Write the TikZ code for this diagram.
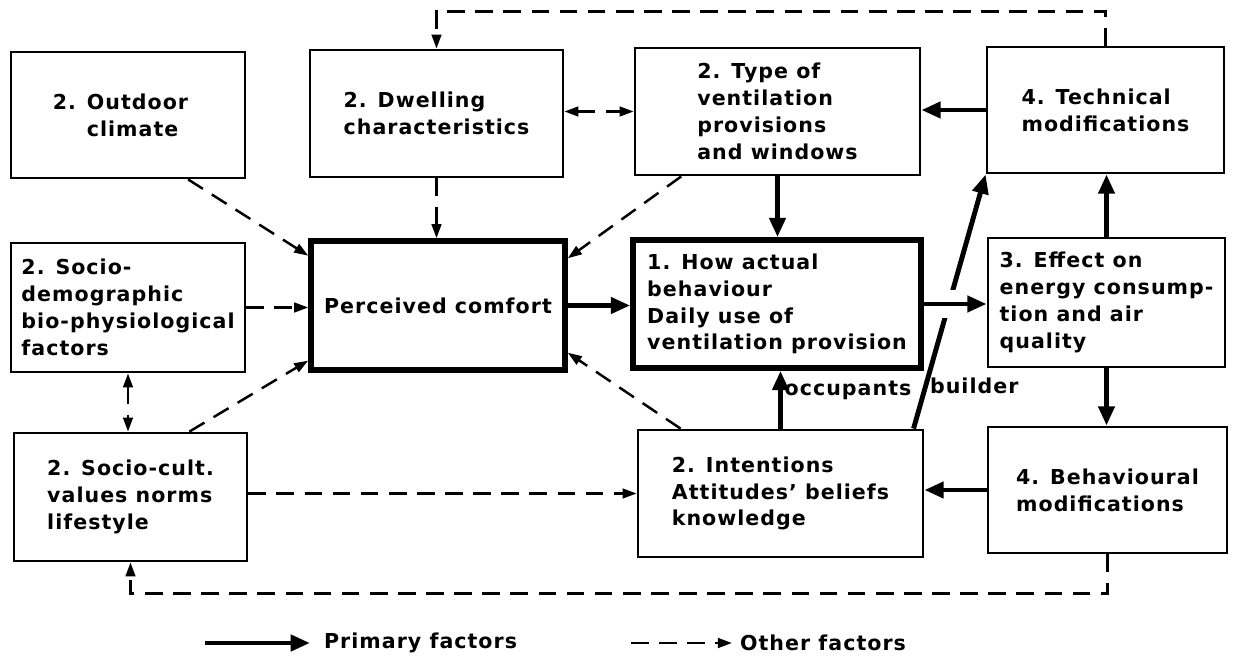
\documentclass[tikz,border=0pt]{standalone}
\usepackage{fontspec}
\setmainfont{DejaVu Sans}[LetterSpace=5]
\usepackage{tikz}
\usetikzlibrary{arrows.meta}
\tikzset{%
    box/.style={draw, line width=1.6pt, align=left, inner sep=0pt,
        font=\fontsize{11.7}{15.3}\selectfont\bfseries},
    mainbox/.style={box, line width=3.2pt},
    primary/.style={line width=2.8pt, -{Triangle[length=11pt,width=9pt]}},
    other/.style={line width=1.4pt, dash pattern=on 10pt off 6pt,
        -{Triangle[length=8pt,width=5.5pt]}},
    tag/.style={inner sep=1pt, font=\fontsize{11.7}{15.3}\selectfont\bfseries}
}

\begin{document}
\begin{tikzpicture}[x=0.02cm, y=-0.02cm]
\useasboundingbox (0,0) rectangle (1235,658);
%-----------------------------------------------
    \node[box, minimum width=4.68cm, minimum height=2.52cm] (outdoor) at (128,115) {2. Outdoor\hphantom{ii}\\\hphantom{2. }climate};
    \node[box, minimum width=5.06cm, minimum height=2.54cm] (dwelling) at (436.5,113.5) {2. Dwelling\\characteristics};
    \node[box, minimum width=5.70cm, minimum height=2.54cm] (ventil) at (777.5,111.5) {2. Type of\\ventilation\\provisions\\and windows};
    \node[box, minimum width=4.74cm, minimum height=2.52cm] (techmod) at (1105.5,110) {4. Technical\\modifications};
%-----------------------------------------------
    \node[box, minimum width=4.68cm, minimum height=2.58cm] (sociodem) at (128,307.5) {2. Socio-\\demographic\\bio-physiological\\factors};
    \node[mainbox, minimum width=5.08cm, minimum height=2.58cm] (comfort) at (438,305.5) {Perceived comfort};
    \node[mainbox, minimum width=5.76cm, minimum height=2.56cm] (behaviour) at (777,304) {1. How actual\\behaviour\\Daily use of\\ventilation provision};
    \node[box, minimum width=4.74cm, minimum height=2.58cm] (effect) at (1106.5,302.5) {3. Effect on\\energy consump-\\tion and air\\quality};
%-----------------------------------------------
    \node[box, minimum width=4.66cm, minimum height=2.56cm] (sociocult) at (130.5,497) {2. Socio-cult.\\values norms\\lifestyle};
    \node[box, minimum width=5.70cm, minimum height=2.54cm] (intention) at (780.5,493.5) {2. Intentions\\Attitudes' beliefs\\knowledge};
    \node[box, minimum width=4.78cm, minimum height=2.52cm] (behavmod) at (1107.5,490) {4. Behavioural\\modifications};
%-----------------------------------------------
    % other factors
    \draw[other] (outdoor.-47) -- (comfort.159);
    \draw[other] (dwelling.south) -- (dwelling.south |- comfort.north);
    \draw[other] (ventil.-146.6) -- (comfort.20.9);
    \draw[other] (sociodem.east) -- (sociodem.east -| comfort.west);
    \draw[other] (sociocult.48) -- (comfort.-157.3);
    \draw[other] (intention.147.7) -- (comfort.-20.1);
    \draw[other, {Triangle[length=8pt,width=5.5pt]}-{Triangle[length=8pt,width=5.5pt]}] (sociodem.south) -- (sociodem.south |- sociocult.north);
    \draw[other, {Triangle[length=8pt,width=5.5pt]}-{Triangle[length=8pt,width=5.5pt]}] (ventil.west -| dwelling.east) -- (ventil.west);
    \draw[other] (intention.west -| sociocult.east) -- (intention.west);
    \draw[other] (techmod.north) -- ++(0,-34) -| (dwelling.north);
    \draw[other] (behavmod.south) -- ++(0,39) -| (sociocult.south);
%-----------------------------------------------
    % primary factors
    \draw[primary] (techmod.west) -- (techmod.west -| ventil.east);
    \draw[primary] (ventil.south) -- (ventil.south |- behaviour.north);
    \draw[primary] (comfort.east) -- (comfort.east -| behaviour.west);
    \draw[primary] (effect.north) -- (effect.north |- techmod.south);
    \draw[primary] (effect.south) -- (effect.south |- behavmod.north);
    \draw[primary] (behavmod.west) -- (behavmod.west -| intention.east);
    \draw[primary] (intention.north) -- node[tag, right, pos=0.66] (occup) {occupants} (intention.north |- behaviour.south);
    \draw[primary] (intention.26) -- node[tag, right, pos=0.17] (build) {builder} (techmod.south west);
    \draw[primary, preaction={draw=white, line width=16pt, -, shorten <=8pt, shorten >=8pt}] (behaviour.east) -- (behaviour.east -| effect.west);
%-----------------------------------------------
    % legend
    \coordinate (p1) at (205,643);
    \coordinate (p2) at (310,643);
    \coordinate (o1) at (631,643);
    \coordinate (o2) at (732,643);
    \draw[primary] (p1) -- (p2);
    \draw[other] (o1) -- (o2);
    \node[tag, anchor=west] (ptext) at (322,643) {Primary factors};
    \node[tag, anchor=west] (otext) at (738,643) {Other factors};
\end{tikzpicture}
\end{document}
